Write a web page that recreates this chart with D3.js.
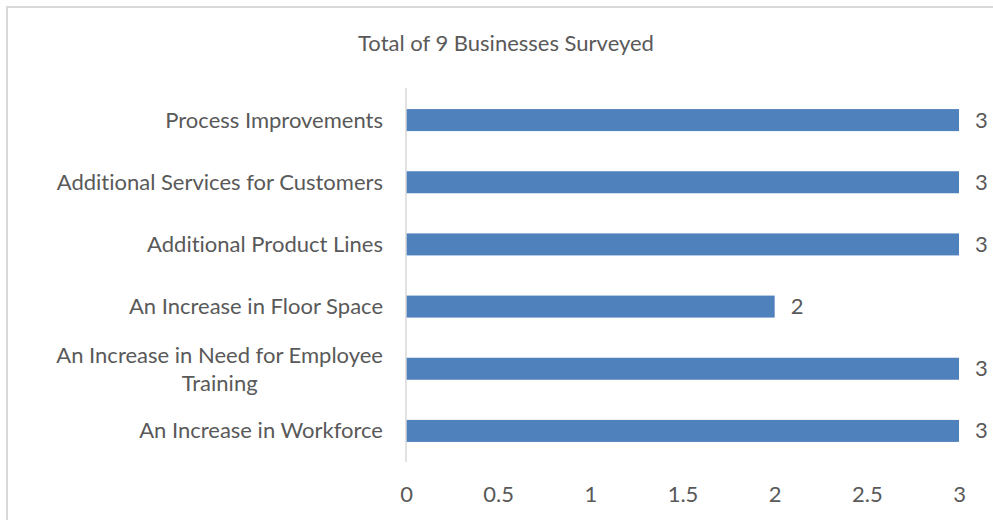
<!DOCTYPE html>
<html>
<head>
<meta charset="utf-8">
<script src="https://cdn.jsdelivr.net/npm/d3@7"></script>
<style>
  html, body { margin: 0; padding: 0; background: #fff; }
  svg text { font-family: Lato, "Open Sans", sans-serif; fill: #595959; font-variant-ligatures: none; }
</style>
</head>
<body>
<svg id="chart" width="993" height="520"></svg>
<script>
// Survey responses: number of businesses reporting each change
const categories = [
  "Process Improvements",
  "Additional Services for Customers",
  "Additional Product Lines",
  "An Increase in Floor Space",
  "An Increase in Need for Employee Training",
  "An Increase in Workforce"
];
const counts = [3, 3, 3, 2, 3, 3];
const xTicks = [0, 0.5, 1, 1.5, 2, 2.5, 3];
const titleText = "Total of 9 Businesses Surveyed";

const FONT = "22px";
const svg = d3.select("#chart");
const W = 993, H = 520;
const plot = { left: 406, right: 959, top: 89, bottom: 462 };

// outer chart-area frame
svg.append("rect")
  .attr("x", 7).attr("y", 7)
  .attr("width", W + 20).attr("height", H + 20)
  .attr("fill", "#fff")
  .attr("stroke", "#d9d9d9").attr("stroke-width", 2);

const x = d3.scaleLinear().domain([0, 3]).range([plot.left, plot.right]);
const y = d3.scaleBand().domain(categories).range([plot.top, plot.bottom]).paddingInner(0.646).paddingOuter(0.323);

svg.append("text")
  .attr("x", 506).attr("y", 42)
  .attr("text-anchor", "middle").attr("dominant-baseline", "central")
  .style("font-size", FONT)
  .text(titleText);

// bars
svg.append("g").selectAll("rect")
  .data(categories)
  .join("rect")
  .attr("x", x(0))
  .attr("y", d => y(d))
  .attr("width", (d, i) => x(counts[i]) - x(0))
  .attr("height", y.bandwidth())
  .attr("fill", "#4f81bd");

// value labels
svg.append("g").selectAll("text")
  .data(categories)
  .join("text")
  .attr("x", (d, i) => x(counts[i]) + 16)
  .attr("y", d => y(d) + y.bandwidth() / 2 - 1)
  .attr("dominant-baseline", "central")
  .style("font-size", FONT)
  .text((d, i) => counts[i]);

// vertical category axis line
svg.append("line")
  .attr("x1", plot.left).attr("x2", plot.left)
  .attr("y1", plot.top - 1).attr("y2", plot.bottom)
  .attr("stroke", "#d9d9d9").attr("stroke-width", 1.5);

// category labels (wrapped where needed)
const wrapped = {
  "An Increase in Need for Employee Training": ["An Increase in Need for Employee", "Training"]
};
const catG = svg.append("g");
categories.forEach(c => {
  const cy = y(c) + y.bandwidth() / 2 - 1;
  const lines = wrapped[c];
  if (!lines) {
    catG.append("text")
      .attr("x", 383).attr("y", cy)
      .attr("text-anchor", "end").attr("dominant-baseline", "central")
      .style("font-size", FONT)
      .text(c);
  } else {
    const t = catG.append("text")
      .attr("dominant-baseline", "central")
      .style("font-size", FONT);
    t.append("tspan").attr("x", 0).attr("y", cy - 14).text(lines[0]);
    t.append("tspan").attr("x", 0).attr("y", cy + 14).text(lines[1]);
    const wFirst = t.select("tspan").node().getComputedTextLength();
    const centerX = 383 - wFirst / 2;
    t.selectAll("tspan").attr("x", centerX).attr("text-anchor", "middle");
  }
});

// value axis tick labels
const xAxis = d3.axisBottom(x).tickValues(xTicks).tickSize(0).tickPadding(0)
  .tickFormat(d3.format("~g"));
const gx = svg.append("g").attr("transform", `translate(0, 493)`).call(xAxis);
gx.select(".domain").remove();
gx.selectAll("text")
  .attr("dy", null).attr("y", 0)
  .attr("dominant-baseline", "central")
  .style("font-size", FONT)
  .style("font-family", "Lato, 'Open Sans', sans-serif")
  .attr("fill", "#595959");
</script>
</body>
</html>
